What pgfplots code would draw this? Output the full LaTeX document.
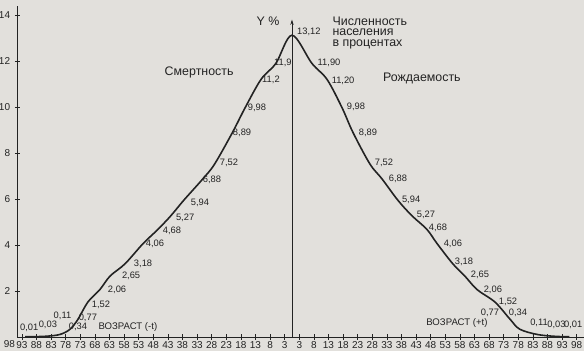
\documentclass[border=0pt]{standalone}
\usepackage{fontspec}
\setmainfont{Liberation Sans}
\usepackage{pgfplots}
\pgfplotsset{compat=1.18}
\usetikzlibrary{arrows.meta}
\definecolor{paper}{RGB}{226,224,220}
\definecolor{ink}{RGB}{35,35,35}
\tikzset{
  dl/.style={font=\fontsize{7}{7}\selectfont, text=ink, inner sep=0pt},
  tl/.style={font=\fontsize{9.3}{8}\selectfont, text=ink, inner sep=0pt},
}
\begin{document}
\begin{tikzpicture}
\path[use as bounding box, fill=paper] (-13.125pt,-10.5pt) rectangle ++(438pt,263.25pt);
\begin{axis}[
  x=2.19pt, y=17.25pt,
  xmin=-94, xmax=100, ymin=0, ymax=14.4,
  axis x line*=bottom, axis y line*=left,
  axis line style={ink, line width=0.6pt},
  xtick={-92.5,-87.5,-82.5,-77.5,-72.5,-67.5,-62.5,-57.5,-52.5,-47.5,-42.5,-37.5,-32.5,-27.5,-22.5,-17.5,-12.5,-7.5,-2.5,
         2.5,7.5,12.5,17.5,22.5,27.5,32.5,37.5,42.5,47.5,52.5,57.5,62.5,67.5,72.5,77.5,82.5,87.5,92.5,97.5},
  xticklabels={93,88,83,78,73,68,63,58,53,48,43,38,33,28,23,18,13,8,3,
               3,8,13,18,23,28,33,38,43,48,53,58,63,68,73,78,83,88,93,98},
  ytick={2,4,6,8,10,12,14},
  tick align=center, major tick length=4pt,
  tick style={ink, line width=0.5pt},
  tick label style={font=\fontsize{7.5}{8}\selectfont, text=ink},
  xticklabel style={yshift=2pt},
  /pgf/number format/assume math mode=true,
  clip=false,
]
% mortality (left) and births (right)
\addplot[ink, line width=1.2pt, smooth, tension=0.55] coordinates {
 (-91.4,0.01) (-84.6,0.03) (-79.5,0.11) (-76.0,0.34) (-73.3,0.77) (-69.9,1.52)
 (-65.8,2.06) (-62.3,2.65) (-57.2,3.18) (-51.0,4.06) (-45.9,4.68) (-41.5,5.27)
 (-37.1,5.94) (-30.5,6.88) (-26.5,7.52) (-20.4,8.89) (-16.0,9.98) (-10.6,11.2)
 (-5.5,11.9) (0,13.12)
 (6.8,11.90) (12.0,11.20) (17.1,9.98) (20.9,8.89) (26.7,7.52) (30.8,6.88)
 (36.3,5.94) (41.1,5.27) (46.2,4.68) (49.7,4.06) (55.1,3.18) (59.2,2.65)
 (63.4,2.06) (69.5,1.52) (74.7,0.77) (78.0,0.34) (84.0,0.11) (90.0,0.03) (95.0,0.01)
};
% central axis
\draw[ink, line width=0.5pt, -{Stealth[length=4pt,width=2.5pt]}] (axis cs:0,0) -- (axis cs:0,13.8);
\node[tl] at (axis cs:-8.2,13.74) {Y \%};
\node[tl, anchor=west, align=left] at (axis cs:13.8,13.22) {Численность\\населения\\в процентах};
\node[tl] at (axis cs:-31.8,11.52) {Смертность};
\node[tl] at (axis cs:44.5,11.26) {Рождаемость};
\node[dl, font=\fontsize{7.2}{7}\selectfont] at (axis cs:-56.2,0.43) {ВОЗРАСТ (-t)};
\node[dl, font=\fontsize{7.2}{7}\selectfont] at (axis cs:56.5,0.61) {ВОЗРАСТ (+t)};
\node[anchor=north, font=\fontsize{7.5}{8}\selectfont, text=ink, inner sep=1pt] at (axis cs:-96.8,-0.1) {98};
% left value labels
\node[dl] at (axis cs:5.8,13.26) {13,12};
\node[dl] at (axis cs:-3.1,11.91) {11,9};
\node[dl] at (axis cs:-7.2,11.17) {11,2};
\node[dl] at (axis cs:-12.0,9.96) {9,98};
\node[dl] at (axis cs:-17.1,8.87) {8,89};
\node[dl] at (axis cs:-21.6,7.57) {7,52};
\node[dl] at (axis cs:-27.4,6.83) {6,88};
\node[dl] at (axis cs:-31.5,5.83) {5,94};
\node[dl] at (axis cs:-36.6,5.17) {5,27};
\node[dl] at (axis cs:-41.1,4.61) {4,68};
\node[dl] at (axis cs:-46.9,4.04) {4,06};
\node[dl] at (axis cs:-51.0,3.17) {3,18};
\node[dl] at (axis cs:-55.1,2.65) {2,65};
\node[dl] at (axis cs:-59.9,2.04) {2,06};
\node[dl] at (axis cs:-65.4,1.39) {1,52};
\node[dl] at (axis cs:-69.9,0.83) {0,77};
\node[dl] at (axis cs:-73.3,0.43) {0,34};
\node[dl] at (axis cs:-78.6,0.92) {0,11};
\node[dl] at (axis cs:-83.6,0.55) {0,03};
\node[dl] at (axis cs:-90.0,0.39) {0,01};
% right value labels
\node[dl] at (axis cs:12.7,11.91) {11,90};
\node[dl] at (axis cs:17.5,11.13) {11,20};
\node[dl] at (axis cs:21.9,10.0) {9,98};
\node[dl] at (axis cs:26.0,8.87) {8,89};
\node[dl] at (axis cs:31.5,7.57) {7,52};
\node[dl] at (axis cs:36.3,6.87) {6,88};
\node[dl] at (axis cs:40.8,5.96) {5,94};
\node[dl] at (axis cs:45.9,5.30) {5,27};
\node[dl] at (axis cs:50.0,4.74) {4,68};
\node[dl] at (axis cs:55.1,4.04) {4,06};
\node[dl] at (axis cs:58.9,3.26) {3,18};
\node[dl] at (axis cs:64.4,2.70) {2,65};
\node[dl] at (axis cs:68.8,2.04) {2,06};
\node[dl] at (axis cs:74.0,1.52) {1,52};
\node[dl] at (axis cs:67.8,1.04) {0,77};
\node[dl] at (axis cs:77.4,1.04) {0,34};
\node[dl] at (axis cs:84.6,0.61) {0,11};
\node[dl] at (axis cs:90.6,0.52) {0,03};
\node[dl] at (axis cs:96.3,0.52) {0,01};
\end{axis}
\end{tikzpicture}
\end{document}
